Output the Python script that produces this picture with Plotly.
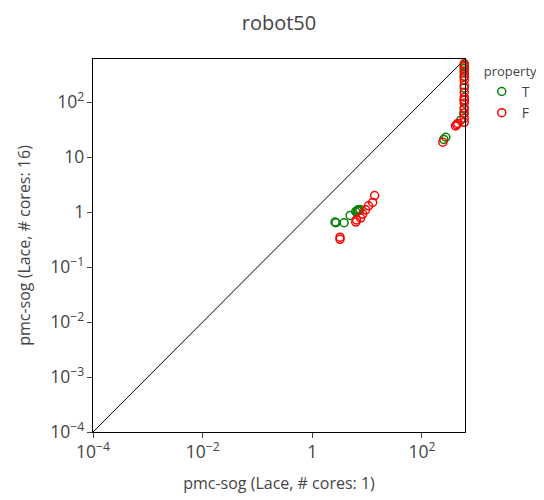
import plotly.graph_objects as go

# Series T (green)
t_x = [2.6, 2.7, 3.8, 4.9, 6.2, 6.6, 7.0, 7.4, 6.8, 272, 250, 510, 580, 590, 590, 590, 590, 590, 590, 590]
t_y = [0.66, 0.64, 0.64, 0.87, 1.02, 1.08, 1.1, 1.12, 1.05, 23, 21, 47, 63, 75, 110, 180, 290, 340, 410, 470]

# Series F (red)
f_x = [3.2, 3.2, 6.2, 6.4, 7.6, 8.3, 9.4, 10.6, 12.6, 13.7, 240, 410, 430, 450,
       590, 590, 590, 590, 590, 590, 590, 590, 590, 590, 590, 590, 590, 590]
f_y = [0.35, 0.32, 0.66, 0.72, 0.78, 0.92, 1.1, 1.3, 1.5, 2.0, 18.7, 37, 39, 41,
       43, 51, 63, 78, 96, 109, 123, 152, 204, 251, 297, 370, 440, 500]

diag = [1e-4, 620]

fig = go.Figure()
fig.add_trace(go.Scatter(x=diag, y=diag, mode="lines", line=dict(color="black", width=1),
                         showlegend=False, hoverinfo="skip"))
fig.add_trace(go.Scatter(x=t_x, y=t_y, mode="markers", name="T", cliponaxis=False,
                         marker=dict(symbol="circle-open", size=8, color="green", line=dict(width=1.5))))
fig.add_trace(go.Scatter(x=f_x, y=f_y, mode="markers", name="F", cliponaxis=False,
                         marker=dict(symbol="circle-open", size=8, color="red", line=dict(width=1.5))))

axis_common = dict(type="log", range=[-4, 2.785], showline=True, linecolor="black", linewidth=1,
                   mirror=True, ticks="outside", ticklen=5, tickcolor="#444", showgrid=False,
                   zeroline=False, exponentformat="power", tick0=0, automargin=False,
                   tickfont=dict(size=14))
fig.update_layout(
    width=544, height=500,
    margin=dict(l=85, r=87, t=51, b=76, autoexpand=False),
    font=dict(family="Open Sans", size=13, color="#444"),
    title=dict(text="robot50", x=0.5, xref="paper", y=0.985, yanchor="top", font=dict(size=20)),
    plot_bgcolor="white", paper_bgcolor="white",
    xaxis=dict(axis_common, dtick=2, title=dict(text="pmc-sog (Lace, # cores: 1)")),
    yaxis=dict(axis_common, dtick=1, title=dict(text="pmc-sog (Lace, # cores: 16)")),
    legend=dict(title=dict(text="property", font=dict(size=13)), x=1.045, y=1, tracegroupgap=0,
                font=dict(size=14)),
)
fig.write_html("out.html")
